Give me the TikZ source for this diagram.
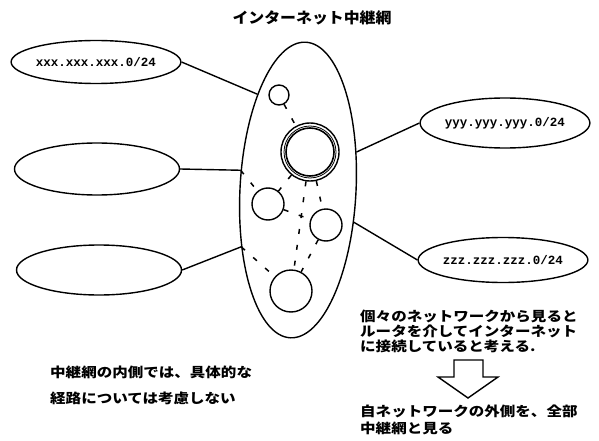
\documentclass[tikz,border=0pt]{standalone}
\usepackage{fontspec}
\usetikzlibrary{shapes.geometric}
\newfontfamily\jpfont{Noto Sans CJK JP}[FakeStretch=1.15]
\newfontfamily\titlefont{Noto Sans CJK JP}[FakeStretch=1.06]
\newfontfamily\addrfont{Liberation Mono}
\tikzset{
  net/.style={draw, ellipse, line width=1.4pt, minimum width=165pt, minimum height=48pt, inner sep=0pt,
    font=\addrfont\bfseries\fontsize{12.5}{13}\selectfont},
  rtr/.style={draw, circle, line width=1.4pt, inner sep=0pt},
  link/.style={line width=1.4pt},
  mesh/.style={line width=1.5pt, dash pattern=on 5pt off 11pt},
  note/.style={align=left, inner sep=0pt, font=\jpfont\bfseries\fontsize{13.5}{15}\selectfont},
}
\begin{document}
\begin{tikzpicture}[x=1pt, y=-1pt]
  \useasboundingbox (0,0) rectangle (599,441);

  \node (title) [note, font=\titlefont\bfseries\fontsize{15}{16}\selectfont] at (312,18) {インターネット中継網};

  \node (relay) [draw, ellipse, line width=1.4pt, minimum width=116pt, minimum height=296pt, rotate=-3] at (298,190) {};

  % routers inside the relay network
  \node (rt0)  [rtr, minimum size=20pt] at (279,95)  {};
  \node (rtc)  [rtr, minimum size=58pt] at (310,152) {};
  \node (rtc2) [rtr, minimum size=52pt, line width=0.8pt] at (rtc) {};
  \node (rtc3) [rtr, minimum size=48pt, line width=1.6pt] at (rtc) {};
  \node (rt1)  [rtr, minimum size=32pt] at (268,204) {};
  \node (rt2)  [rtr, minimum size=32pt] at (326,225) {};
  \node (rt3)  [rtr, minimum size=42pt] at (291,291) {};

  % the networks
  \node (netx) [net, minimum height=43pt] at (96,62)  {xxx.xxx.xxx.0/24};
  \node (net2) [net, minimum height=52pt] at (97,169) {};
  \node (net3) [net, minimum height=50pt] at (99,270) {};
  \node (nety) [net, minimum height=50pt] at (505,123) {yyy.yyy.yyy.0/24};
  \node (netz) [net, minimum width=155pt, minimum height=45pt] at (503,260) {zzz.zzz.zzz.0/24};

  \draw [link] (netx.east) -- (relay.116);
  \draw [link] (net2.east) -- (relay.164);
  \draw [link] (net3.east) -- (relay.228);
  \draw [link] (nety.west) -- (relay.36);
  \draw [link] (netz.west) -- (relay.-27);

  \draw [mesh] (rt0) -- (rtc);
  \draw [mesh] (rtc) -- (rt1);
  \draw [mesh] (rtc) -- (rt2);
  \draw [mesh] (rtc) -- (rt3);
  \draw [mesh] (rt1) -- (rt2);
  \draw [mesh] (rt2) -- (rt3);
  \draw [mesh] (relay.164) -- (rt1);
  \draw [mesh] (relay.228) -- (rt3);
%  \draw [mesh] (rt1) -- (rt3);

  \node (inner) [note, anchor=north west] at (50,366) {中継網の内側では、具体的な\\[11pt]経路については考慮しない};
  \node (view) [note, anchor=north west] at (360,310) {個々のネットワークから見ると\\ルータを介してインターネット\\に接続していると考える.};
  \draw [line width=1.4pt] (454,360) -- (483,360) -- (483,377) -- (498,377) -- (468,398) -- (438,377) -- (454,377) -- cycle;
  \node (whole) [note, anchor=north west] at (360,405) {自ネットワークの外側を、全部\\[2pt]中継網と見る};
\end{tikzpicture}
\end{document}
